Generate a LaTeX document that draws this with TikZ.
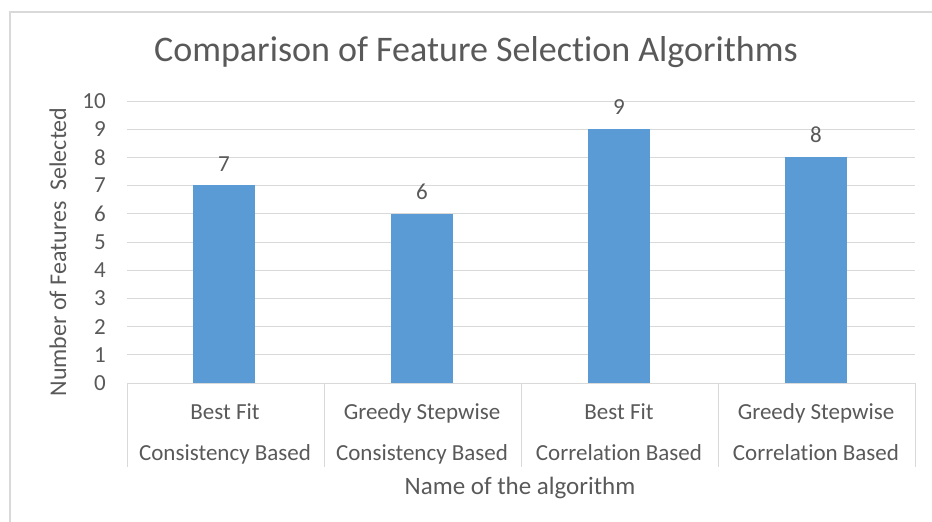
\documentclass[tikz,border=0pt]{standalone}
\usepackage{fontspec}
\setmainfont{Carlito}[Ligatures={NoCommon}]
\usepackage{tikz}
\usetikzlibrary{positioning}
\definecolor{barblue}{HTML}{5B9BD5}
\definecolor{txtgray}{HTML}{595959}
\definecolor{gridgray}{HTML}{D9D9D9}
\tikzset{
  % Chart styles
  bar/.style={rectangle, fill=barblue, minimum width=62pt, inner sep=0pt, anchor=south},
  ticklabel/.style={anchor=east, inner sep=0pt, text=txtgray, font=\fontsize{23}{23}\selectfont},
  catlabel/.style={anchor=base, inner sep=0pt, text=txtgray, font=\fontsize{23}{23}\selectfont},
  vallabel/.style={inner sep=0pt, text=txtgray, font=\fontsize{23}{23}\selectfont},
  axistitle/.style={inner sep=0pt, text=txtgray, font=\fontsize{25}{25}\selectfont},
  gridline/.style={draw=gridgray, line width=1pt},
}

\begin{document}
\begin{tikzpicture}[x=1pt, y=-1pt]
    \useasboundingbox (0,0) rectangle (932,522);

    % Frame
    \draw[gridgray, line width=1.2pt] (10,522) -- (10,12) -- (932,12);

    % Title
    \node[text=txtgray, font=\fontsize{36}{36}\selectfont, inner sep=0pt] (title) at (476,52) {Comparison of Feature Selection Algorithms};

    % Gridlines and ticks
    \foreach \v in {0,...,10} {
      \draw[gridline] (127,{383-28.2*\v}) -- (915,{383-28.2*\v});
      \node[ticklabel] (t\v) at (106,{383-28.2*\v}) {\v};
    }

    % Category separators
    \foreach \x in {127,324,521,718,915}
      \draw[gridline] (\x,383) -- (\x,467);

    % Bars
    \node[bar, minimum height=7*28.2pt] (b1) at (224,383) {};
    \node[bar, minimum height=6*28.2pt] (b2) at (422,383) {};
    \node[bar, minimum height=9*28.2pt] (b3) at (619,383) {};
    \node[bar, minimum height=8*28.2pt] (b4) at (816,383) {};

    % Values
    \node[vallabel, above=14pt of b1] (v1) {7};
    \node[vallabel, above=14pt of b2] (v2) {6};
    \node[vallabel, above=14pt of b3] (v3) {9};
    \node[vallabel, above=14pt of b4] (v4) {8};

    % Category labels
    \node[catlabel] (c1a) at (225,419) {Best Fit};
    \node[catlabel] (c1b) at (225,460) {Consistency Based};
    \node[catlabel] (c2a) at (422,419) {Greedy Stepwise};
    \node[catlabel] (c2b) at (422,460) {Consistency Based};
    \node[catlabel] (c3a) at (619,419) {Best Fit};
    \node[catlabel] (c3b) at (619,460) {Correlation Based};
    \node[catlabel] (c4a) at (816,419) {Greedy Stepwise};
    \node[catlabel] (c4b) at (816,460) {Correlation Based};

    % Axis titles
    \node[axistitle, anchor=base] (xtitle) at (520,494) {Name of the algorithm};
    \node[axistitle, rotate=90, font=\fontsize{24}{24}\selectfont] (ytitle) at (58,252) {Number of Features~ Selected};
  \end{tikzpicture}
\end{document}
